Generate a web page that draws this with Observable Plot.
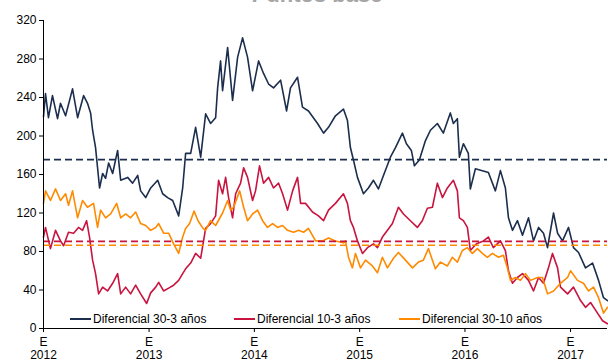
<!DOCTYPE html>
<html>
<head>
<meta charset="utf-8">
<script src="https://cdn.jsdelivr.net/npm/d3@7"></script>
<script src="https://cdn.jsdelivr.net/npm/@observablehq/plot@0.6"></script>
<style>
  html, body { margin: 0; padding: 0; background: #fff; }
  #wrap { position: relative; width: 608px; height: 362px; overflow: hidden; font-family: "Liberation Sans", Arial, sans-serif; }
  #title { position: absolute; left: 0; width: 634px; top: -16px; text-align: center; font-size: 22px; font-weight: bold; line-height: 22px; color: #a6a6a6; }
  .leg { position: absolute; top: 312px; font-size: 12px; line-height: 14px; color: #000; white-space: nowrap; }
  .leg span.sw { display: inline-block; width: 21px; height: 2px; vertical-align: middle; margin-right: 2px; position: relative; top: -1px; }
</style>
</head>
<body>
<div id="wrap">
  <div id="chart"></div>
  <div id="title"></div>
  <div id="legend"></div>
</div>
<script>
// Series labels and colours
const seriesNames = ["Diferencial 30-3 años", "Diferencial 10-3 años", "Diferencial 30-10 años"];
const seriesColors = ["#1c2e4e", "#c8143f", "#ff8a00"];
const titleText = "Puntos base";

// Reference (average) levels, same order as series
const avgLevels = [175.5, 90.5, 86.5];

// Y ticks
const yTicks = [0, 40, 80, 120, 160, 200, 240, 280, 320];

// Values: [decimal year, basis points]
const s30_3 = [
[2012.000,220],[2012.019,244],[2012.047,219],[2012.085,242],[2012.133,218],[2012.161,234],[2012.209,221],[2012.275,249],[2012.323,219],[2012.380,242],[2012.417,234],[2012.446,224],[2012.465,206],[2012.493,188],[2012.512,167],[2012.531,146],[2012.560,161],[2012.588,156],[2012.617,172],[2012.655,161],[2012.702,185],[2012.731,154],[2012.797,157],[2012.844,151],[2012.892,159],[2012.920,143],[2012.968,136],
[2013.015,146],[2013.082,154],[2013.129,140],[2013.176,136],[2013.224,133],[2013.281,117],[2013.319,146],[2013.347,182],[2013.395,182],[2013.442,209],[2013.490,178],[2013.537,223],[2013.584,213],[2013.632,219],[2013.651,250],[2013.679,278],[2013.698,247],[2013.746,292],[2013.793,237],[2013.841,282],[2013.888,302],[2013.935,282],[2013.983,247],
[2014.040,278],[2014.087,265],[2014.135,254],[2014.182,250],[2014.249,258],[2014.306,226],[2014.343,250],[2014.410,261],[2014.457,230],[2014.514,226],[2014.600,213],[2014.657,203],[2014.704,209],[2014.770,221],[2014.846,228],[2014.884,216],[2014.912,188],[2014.941,175],[2014.979,157],
[2015.036,140],[2015.083,146],[2015.131,154],[2015.178,145],[2015.226,159],[2015.292,178],[2015.340,188],[2015.406,203],[2015.444,192],[2015.491,185],[2015.520,169],[2015.567,175],[2015.624,195],[2015.672,206],[2015.738,213],[2015.795,203],[2015.861,224],[2015.890,213],[2015.928,218],[2015.947,178],[2015.985,192],
[2016.032,182],[2016.051,145],[2016.099,166],[2016.165,164],[2016.222,162],[2016.288,143],[2016.336,164],[2016.383,146],[2016.412,115],[2016.450,102],[2016.497,112],[2016.545,97],[2016.602,115],[2016.649,91],[2016.697,105],[2016.744,99],[2016.782,84],[2016.839,120],[2016.877,99],[2016.924,91],[2016.981,105],
[2017.028,84],[2017.076,79],[2017.142,63],[2017.209,68],[2017.266,50],[2017.313,32],[2017.351,29]
];

const s10_3 = [
[2012.000,95],[2012.019,105],[2012.066,83],[2012.114,102],[2012.161,91],[2012.190,86],[2012.237,100],[2012.285,99],[2012.332,105],[2012.370,102],[2012.408,112],[2012.436,95],[2012.465,71],[2012.493,57],[2012.522,36],[2012.560,43],[2012.607,39],[2012.655,47],[2012.702,57],[2012.731,36],[2012.778,43],[2012.825,36],[2012.873,45],[2012.920,36],[2012.977,26],
[2013.015,37],[2013.063,43],[2013.091,48],[2013.138,39],[2013.186,42],[2013.233,45],[2013.281,50],[2013.319,57],[2013.347,62],[2013.395,68],[2013.442,78],[2013.490,73],[2013.537,104],[2013.584,109],[2013.632,117],[2013.660,154],[2013.698,140],[2013.727,157],[2013.755,136],[2013.793,115],[2013.822,140],[2013.869,151],[2013.898,167],[2013.935,157],[2013.983,133],
[2014.011,143],[2014.049,169],[2014.087,151],[2014.135,157],[2014.182,146],[2014.230,151],[2014.268,140],[2014.315,123],[2014.363,143],[2014.410,157],[2014.439,130],[2014.486,130],[2014.552,121],[2014.609,117],[2014.657,112],[2014.704,123],[2014.770,130],[2014.846,140],[2014.884,130],[2014.912,112],[2014.941,105],[2014.979,91],
[2015.027,78],[2015.074,84],[2015.131,88],[2015.169,84],[2015.216,95],[2015.264,102],[2015.311,109],[2015.368,126],[2015.416,119],[2015.482,112],[2015.548,105],[2015.595,112],[2015.643,125],[2015.691,126],[2015.738,151],[2015.786,136],[2015.833,146],[2015.890,154],[2015.928,143],[2015.947,115],[2015.985,112],
[2016.023,105],[2016.051,81],[2016.109,88],[2016.175,91],[2016.222,95],[2016.269,84],[2016.336,91],[2016.383,81],[2016.412,60],[2016.450,47],[2016.497,53],[2016.545,57],[2016.602,50],[2016.649,39],[2016.697,53],[2016.744,47],[2016.791,63],[2016.829,78],[2016.877,63],[2016.905,43],[2016.972,36],
[2017.028,43],[2017.095,29],[2017.142,22],[2017.190,27],[2017.256,16],[2017.304,8],[2017.351,5]
];

const s30_10 = [
[2012.000,130],[2012.019,143],[2012.066,133],[2012.114,145],[2012.161,133],[2012.209,140],[2012.237,128],[2012.275,143],[2012.323,115],[2012.370,133],[2012.417,126],[2012.474,130],[2012.512,105],[2012.541,123],[2012.588,115],[2012.636,119],[2012.693,130],[2012.731,115],[2012.778,119],[2012.825,115],[2012.873,121],[2012.920,109],[2012.968,107],
[2013.015,102],[2013.063,105],[2013.091,109],[2013.138,99],[2013.186,99],[2013.233,88],[2013.281,78],[2013.319,95],[2013.347,104],[2013.385,109],[2013.427,122],[2013.465,112],[2013.512,104],[2013.537,102],[2013.584,112],[2013.632,107],[2013.698,120],[2013.746,133],[2013.774,123],[2013.803,126],[2013.860,143],[2013.898,126],[2013.935,112],[2013.983,119],
[2014.030,123],[2014.078,112],[2014.125,105],[2014.173,109],[2014.220,105],[2014.268,107],[2014.315,102],[2014.372,100],[2014.420,102],[2014.467,100],[2014.514,104],[2014.581,91],[2014.647,91],[2014.704,94],[2014.770,91],[2014.846,89],[2014.865,91],[2014.894,74],[2014.931,63],[2014.960,78],
[2015.008,63],[2015.055,71],[2015.121,65],[2015.169,58],[2015.216,74],[2015.264,63],[2015.321,73],[2015.368,79],[2015.435,71],[2015.501,63],[2015.558,69],[2015.605,71],[2015.653,83],[2015.719,62],[2015.767,69],[2015.833,65],[2015.880,74],[2015.928,69],[2015.975,81],
[2016.023,84],[2016.070,78],[2016.118,83],[2016.165,78],[2016.212,74],[2016.260,78],[2016.317,74],[2016.364,76],[2016.402,63],[2016.431,50],[2016.478,53],[2016.526,50],[2016.573,57],[2016.621,50],[2016.687,53],[2016.734,53],[2016.782,36],[2016.839,39],[2016.905,47],[2016.972,53],
[2017.000,60],[2017.066,50],[2017.123,47],[2017.171,39],[2017.218,43],[2017.266,32],[2017.313,16],[2017.351,22]
];

// decimal year -> Date
function toDate(t) {
  const y = Math.floor(t);
  const start = Date.UTC(y, 0, 1), end = Date.UTC(y + 1, 0, 1);
  return new Date(start + (t - y) * (end - start));
}

const allSeries = [s30_3, s10_3, s30_10];
const rows = [];
allSeries.forEach((s, i) => s.forEach(([t, v]) => rows.push({date: toDate(t), value: v, series: seriesNames[i]})));
const avgRows = avgLevels.map((v, i) => ({value: v, series: seriesNames[i]}));

const xDomain = d3.extent(rows, d => d.date);
xDomain[0] = new Date(Date.UTC(xDomain[0].getUTCFullYear(), 0, 1));
const xTicks = d3.utcYear.range(xDomain[0], xDomain[1]);

const chart = Plot.plot({
  width: 608,
  height: 362,
  marginLeft: 43,
  marginRight: 1,
  marginTop: 20,
  marginBottom: 34,
  style: {fontFamily: '"Liberation Sans", Arial, sans-serif', fontSize: "12px", color: "#000", background: "transparent"},
  x: {type: "utc", domain: xDomain},
  y: {domain: [0, 320]},
  color: {domain: seriesNames, range: seriesColors},
  marks: [
    Plot.line(rows, {x: "date", y: "value", z: "series", stroke: "series", strokeWidth: 1.6, strokeLinejoin: "round"}),
    Plot.ruleY(avgRows, {y: "value", stroke: "series", strokeWidth: 1.6, strokeDasharray: "7,4"}),
    Plot.ruleY([0], {stroke: "#000", strokeWidth: 1}),
    Plot.ruleX([xDomain[0]], {stroke: "#000", strokeWidth: 1}),
    Plot.axisY({ticks: yTicks, tickSize: 4, tickPadding: 3, label: null, stroke: "#000"}),
    Plot.axisX({ticks: xTicks, tickFormat: d => "E\n" + d.getUTCFullYear(), tickSize: 4, tickPadding: 4, lineHeight: 1.12, label: null, stroke: "#000"})
  ]
});
document.getElementById("chart").appendChild(chart);
document.getElementById("title").textContent = titleText;

const legendLeft = [70, 234, 399];
const leg = document.getElementById("legend");
seriesNames.forEach((n, i) => {
  const d = document.createElement("div");
  d.className = "leg";
  d.style.left = legendLeft[i] + "px";
  d.innerHTML = '<span class="sw" style="background:' + seriesColors[i] + '"></span>' + n;
  leg.appendChild(d);
});
</script>
</body>
</html>
